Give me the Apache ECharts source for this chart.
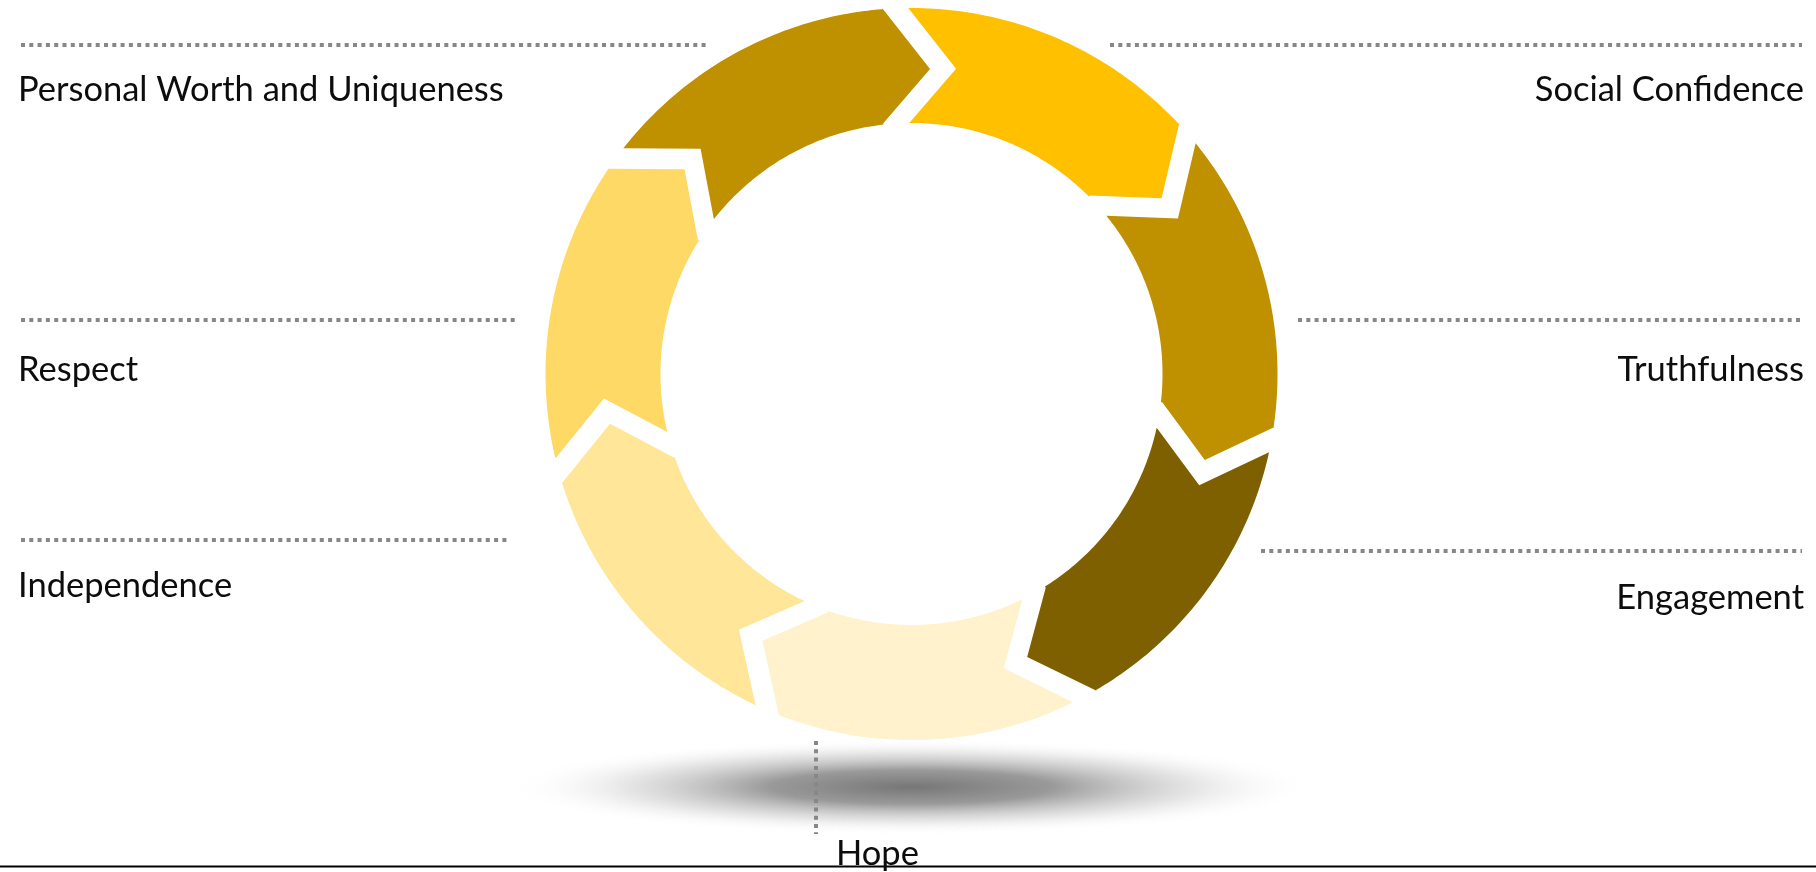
<!DOCTYPE html>
<html>
<head>
<meta charset="utf-8">
<script src="https://cdn.jsdelivr.net/npm/echarts@6/dist/echarts.min.js"></script>
<style>
  html, body { margin: 0; padding: 0; background: #fff; }
  #cycle { width: 1816px; height: 872px; }
</style>
</head>
<body>
<div id="cycle"></div>
<script>
// segments, clockwise from 12 o'clock
var labels = ['Social Confidence', 'Truthfulness', 'Engagement', 'Hope', 'Independence', 'Respect', 'Personal Worth and Uniqueness']
var weights = [1, 1, 1, 1, 1, 1, 1]

var palette = ['#FFC000', '#BF9000', '#7F6000', '#FFF2CC', '#FFE699', '#FFD966', '#BF9000']

// ring geometry
var ring = { cx: 911.5, cy: 374, outer: 366, inner: 251, start: -0.5, head: 8.8, gap: 26 }

// where each label and its dotted rule go (same order as labels)
var labelLayout = [
  { x: 1804, y: 90, align: 'right', rule: [1110, 45, 1802, 45] },
  { x: 1804, y: 370, align: 'right', rule: [1298, 320, 1802, 320] },
  { x: 1804, y: 598, align: 'right', rule: [1261, 551, 1802, 551] },
  { x: 836, y: 854, align: 'left', rule: [816, 741, 816, 834] },
  { x: 18, y: 586, align: 'left', rule: [21, 540, 507, 540] },
  { x: 18, y: 370, align: 'left', rule: [21, 320, 515, 320] },
  { x: 18, y: 90, align: 'left', rule: [21, 45, 706, 45] }
]

var rad = Math.PI / 180
function pt(deg, r) {
  return [ring.cx + r * Math.sin(deg * rad), ring.cy - r * Math.cos(deg * rad)]
}
function shift(p, deg, d) {
  return [p[0] - d * Math.cos(deg * rad), p[1] - d * Math.sin(deg * rad)]
}

var total = weights.reduce(function(s, v) { return s + v }, 0)

function renderItem(params, api) {
  var i = params.dataIndex
  var acc = 0
  for (var j = 0; j < i; j++) acc += weights[j]
  var a = ring.start + acc / total * 360
  var b = a + api.value(0) / total * 360
  var mid = (ring.outer + ring.inner) / 2
  var pts = []
  var k
  // trailing edge is a notch, leading edge is the same notch pushed back by the gap
  var endOuter = b - Math.atan(ring.gap / ring.outer) / rad
  var endInner = b - Math.atan(ring.gap / ring.inner) / rad
  var steps = 60
  for (k = 0; k <= steps; k++) {
    pts.push(pt(a + (endOuter - a) * k / steps, ring.outer))
  }
  pts.push(shift(pt(b, ring.outer), b, ring.gap))
  pts.push(shift(pt(b + ring.head, mid), b, ring.gap))
  pts.push(shift(pt(b, ring.inner), b, ring.gap))
  for (k = steps; k >= 0; k--) {
    pts.push(pt(a + (endInner - a) * k / steps, ring.inner))
  }
  pts.push(pt(a + ring.head, mid))
  return {
    type: 'polygon',
    shape: { points: pts },
    style: { fill: palette[i] }
  }
}

var graphics = [
  {
    type: 'circle',
    x: 911, y: 787,
    scaleX: 8.4,
    shape: { cx: 0, cy: 0, r: 48 },
    style: {
      fill: new echarts.graphic.RadialGradient(0.5, 0.5, 0.5, [
        { offset: 0, color: 'rgba(118,118,118,1)' },
        { offset: 0.35, color: 'rgba(128,128,128,0.8)' },
        { offset: 0.7, color: 'rgba(180,180,180,0.35)' },
        { offset: 1, color: 'rgba(255,255,255,0)' }
      ])
    },
    z: 0
  },
  {
    type: 'line',
    shape: { x1: 0, y1: 866.5, x2: 1816, y2: 866.5 },
    style: { stroke: '#000', lineWidth: 2 },
    z: 1
  }
]

labels.forEach(function(name, i) {
  var l = labelLayout[i]
  graphics.push({
    type: 'line',
    shape: { x1: l.rule[0], y1: l.rule[1], x2: l.rule[2], y2: l.rule[3] },
    style: { stroke: '#878787', lineWidth: 4, lineDash: [4, 4.3] },
    z: 2
  })
  graphics.push({
    type: 'text',
    x: l.x, y: l.y,
    style: {
      text: name,
      fill: '#0d0d0d',
      font: '34.5px Lato',
      align: l.align,
      verticalAlign: 'middle'
    },
    z: 3
  })
})

var chart = echarts.init(document.getElementById('cycle'))
chart.setOption({
  animation: false,
  graphic: graphics,
  series: [{
    type: 'custom',
    coordinateSystem: 'none',
    silent: true,
    z: 10,
    renderItem: renderItem,
    data: weights.map(function(w, i) { return { name: labels[i], value: [w] } })
  }]
})
</script>
</body>
</html>
